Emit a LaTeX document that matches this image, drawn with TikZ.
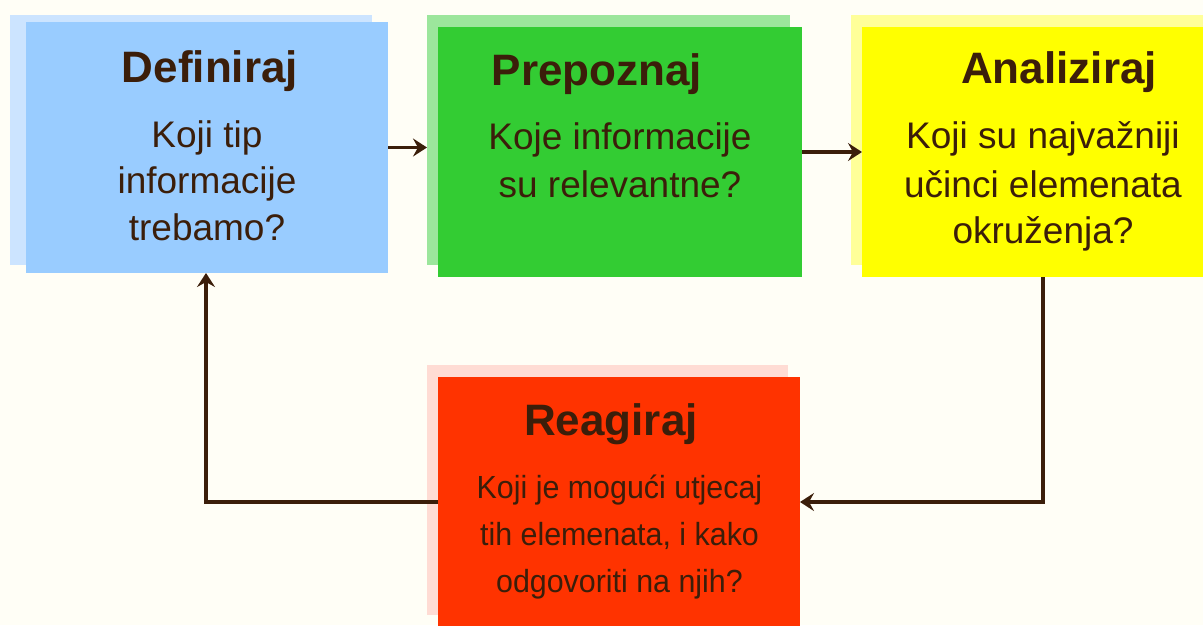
\documentclass[tikz,border=0pt]{standalone}
\usepackage{fontspec}
\setmainfont{Liberation Sans}
\newfontfamily\redbody[FakeStretch=0.95]{Liberation Sans}
\usetikzlibrary{arrows.meta}
\definecolor{bgc}{HTML}{FFFEF6}
\definecolor{txt}{HTML}{3B1E0A}
\definecolor{blueM}{HTML}{99CCFF}
\definecolor{blueS}{HTML}{CCE4FF}
\definecolor{greenM}{HTML}{33CC33}
\definecolor{greenS}{HTML}{9CE69C}
\definecolor{yellowM}{HTML}{FFFF00}
\definecolor{yellowS}{HTML}{FFFF99}
\definecolor{redM}{HTML}{FF3300}
\definecolor{redS}{HTML}{FFDCD4}
\tikzset{
  panel/.style={draw=none, inner sep=0pt, outer sep=0pt},
  ttl/.style={anchor=base, inner sep=0pt, text=txt, font=\bfseries\fontsize{44}{50}\selectfont},
  bdy/.style={anchor=base, inner sep=0pt, text=txt, font=\fontsize{37}{46}\selectfont},
  rbdy/.style={anchor=base, inner sep=0pt, text=txt, font=\redbody\fontsize{32}{46}\selectfont},
  conn/.style={draw=txt, line width=3.5pt, -{Stealth[length=14pt,width=18pt,inset=5pt]}}
}
\begin{document}
\begin{tikzpicture}[x=1pt,y=-1pt]
\fill[bgc] (0,0) rectangle (1203,625);
\useasboundingbox (0,0) rectangle (1203,625);
% shadows
\node[panel, fill=blueS, minimum width=362pt, minimum height=250pt] (defS) at (191,140) {};
\node[panel, fill=greenS, minimum width=363pt, minimum height=250pt] (preS) at (608.5,140) {};
\node[panel, fill=yellowS, minimum width=352pt, minimum height=250pt] (anaS) at (1027,140) {};
\node[panel, fill=redS, minimum width=361pt, minimum height=250pt] (reaS) at (607.5,490) {};
% main boxes
\node[panel, fill=blueM, minimum width=362pt, minimum height=251pt] (def) at (207,147.5) {};
\node[panel, fill=greenM, minimum width=364pt, minimum height=250pt] (pre) at (620,152) {};
\node[panel, fill=yellowM, minimum width=341pt, minimum height=250pt] (ana) at (1032.5,152) {};
\node[panel, fill=redM, minimum width=362pt, minimum height=250pt] (rea) at (619,502) {};
% texts
\node[ttl] (defT) at (210,82) {Definiraj};
\node[bdy] (defB1) at (207,147) {Koji tip};
\node[bdy] (defB2) at (207,193) {informacije};
\node[bdy] (defB3) at (207,240) {trebamo?};
\node[ttl] (preT) at (597,85) {Prepoznaj};
\node[bdy] (preB1) at (620,149) {Koje informacije};
\node[bdy] (preB2) at (620,197) {su relevantne?};
\node[ttl] (anaT) at (1059,83) {Analiziraj};
\node[bdy] (anaB1) at (1043,148) {Koji su najvažniji};
\node[bdy] (anaB2) at (1043,197) {učinci elemenata};
\node[bdy] (anaB3) at (1043,243) {okruženja?};
\node[ttl] (reaT) at (611,435) {Reagiraj};
\node[rbdy] (reaB1) at (619.5,498) {Koji je mogući utjecaj};
\node[rbdy] (reaB2) at (619.5,545) {tih elemenata, i kako};
\node[rbdy] (reaB3) at (619.5,592) {odgovoriti na njih?};
% connectors
\coordinate (c1) at (1043,502);
\coordinate (c2) at (206,502);
\draw[conn] (def.east) -- (def.east -| preS.west);
\draw[conn] (pre.east) -- (pre.east -| ana.west);
\draw[conn] (ana.south -| c1) |- (rea.east);
\draw[conn] (rea.west) -- (c2) -- (c2 |- def.south);
\end{tikzpicture}
\end{document}
